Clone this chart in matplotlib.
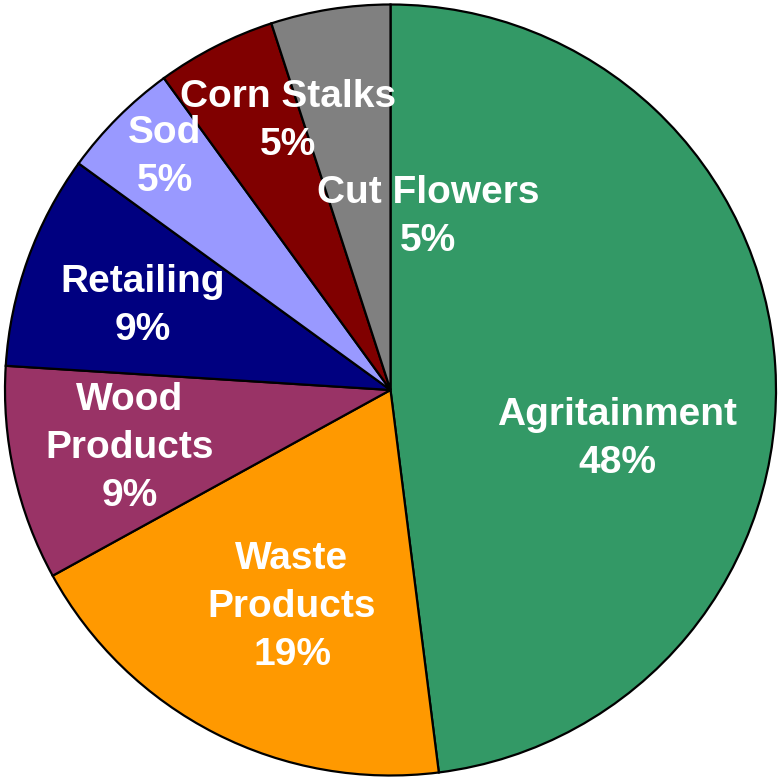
import matplotlib.pyplot as plt

categories = ['Agritainment', 'Waste\nProducts', 'Wood\nProducts', 'Retailing',
              'Sod', 'Corn Stalks', 'Cut Flowers']
shares = [48, 19, 9, 9, 5, 5, 5]
colors = ['#339966', '#FF9900', '#993366', '#000080', '#9999FF', '#800000', '#808080']

# label anchor points in pixels (center of text block), converted below
label_px = [(617, 439), (292, 607), (130, 448), (143, 306),
            (165, 157), (288, 121), (428, 217)]

plt.rcParams['font.family'] = ['Liberation Sans', 'DejaVu Sans']

fig = plt.figure(figsize=(7.78, 7.78), dpi=100)
ax = fig.add_axes([0, 0, 1, 1])

cx, cy, r = 390.5, 390, 385.5
ax.pie(shares, colors=colors, startangle=90, counterclock=False, radius=1,
       wedgeprops=dict(edgecolor='black', linewidth=1.6))

for name, val, (px, py) in zip(categories, shares, label_px):
    x = (px - cx) / r
    y = (cy - py) / r
    ax.text(x, y, f'{name}\n{val}%', ha='center', va='center', color='white',
            fontsize=28, fontweight='bold', linespacing=1.42)

ax.set_xlim(-cx / r, (778 - cx) / r)
ax.set_ylim(-(778 - cy) / r, cy / r)
ax.set_aspect('equal')
ax.axis('off')

fig.savefig('out.png', dpi=100, facecolor='white')
